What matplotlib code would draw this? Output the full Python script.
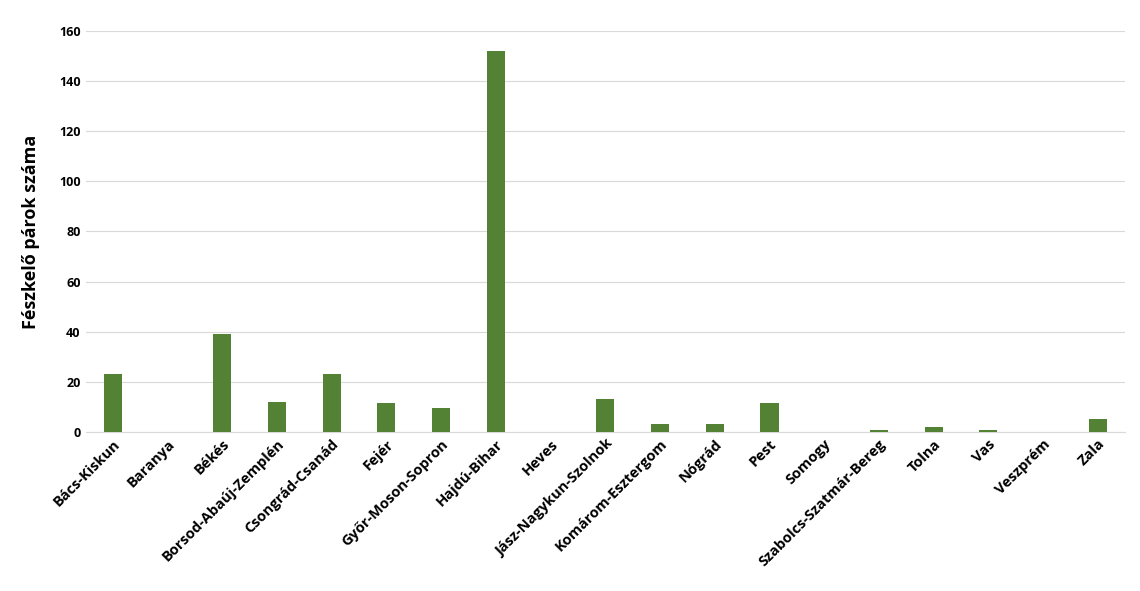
import matplotlib
matplotlib.use("Agg")
import matplotlib.pyplot as plt

counties = ["Bács-Kiskun","Baranya","Békés","Borsod-Abaúj-Zemplén","Csongrád-Csanád","Fejér",
            "Győr-Moson-Sopron","Hajdú-Bihar","Heves","Jász-Nagykun-Szolnok","Komárom-Esztergom",
            "Nógrád","Pest","Somogy","Szabolcs-Szatmár-Bereg","Tolna","Vas","Veszprém","Zala"]
pairs = [23,0,39,12,23,11.5,9.5,152,0,13,3,3,11.5,0,1,2,1,0,5]
yticks = [0,20,40,60,80,100,120,140,160]

plt.rcParams['font.family'] = ['Open Sans','DejaVu Sans']
fig = plt.figure(figsize=(11.4,5.91), dpi=100)
ax = fig.add_axes([0.075,0.269,0.912,0.679])
x = range(len(counties))
ax.bar(x, pairs, width=0.33, color="#548235", zorder=3)
ax.set_ylim(0,160)
ax.set_xlim(-0.5,len(counties)-0.5)
ax.set_yticks(yticks)
ax.set_yticklabels([str(v) for v in yticks], fontsize=9, fontweight='bold')
ax.grid(axis='y', color='#d9d9d9', linewidth=0.8, zorder=0)
ax.set_xticks(list(x))
ax.set_xticklabels(counties, rotation=45, ha='right', rotation_mode='anchor', fontsize=10.5, fontweight='bold')
ax.tick_params(length=0)
for s in ['top','right','left']:
    ax.spines[s].set_visible(False)
ax.spines['bottom'].set_color('#d9d9d9')
ax.set_ylabel("Fészkelő párok száma", fontsize=13, fontweight='bold', labelpad=14)
fig.savefig("out.png", dpi=100)
